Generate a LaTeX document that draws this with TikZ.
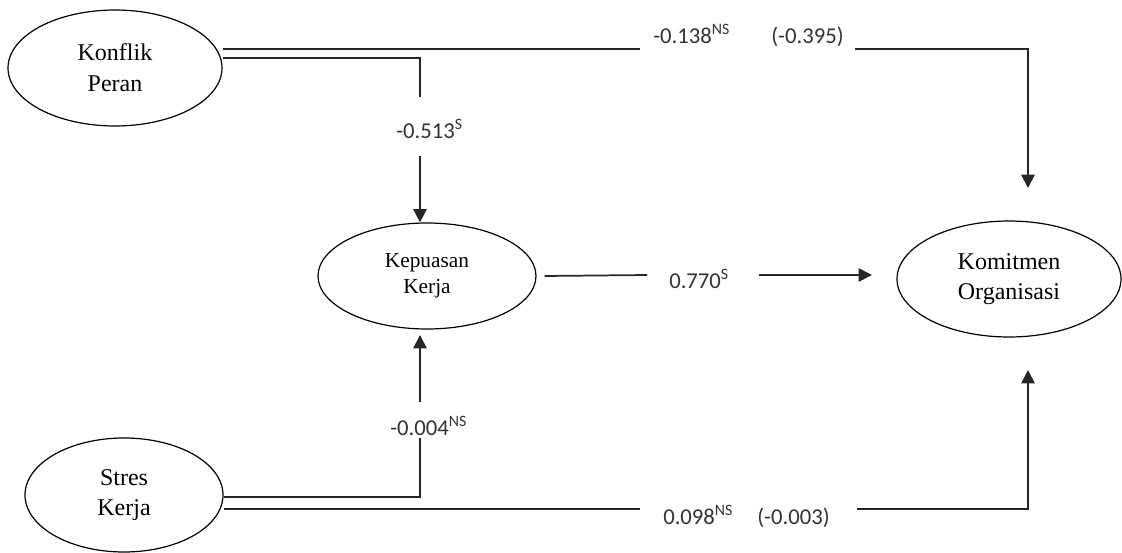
\documentclass[tikz,border=0pt]{standalone}
\usepackage{fontspec}
\setmainfont{Liberation Serif}
\newfontfamily\labfont{Carlito}
\usetikzlibrary{shapes.geometric,arrows.meta}
\begin{document}
\begin{tikzpicture}[x=0.75pt,y=-0.75pt,
  construct/.style={ellipse,draw,line width=0.9pt,inner sep=0pt,align=center,
    font=\fontsize{18}{23}\selectfont},
  link/.style={line width=1.3pt,black!85},
  arr/.style={link,-{Triangle[width=10pt,length=10pt]}},
  coef/.style={inner sep=0pt,anchor=base west,text=black!80,
    font=\labfont\fontsize{17}{20}\selectfont}]
\useasboundingbox (0,0) rectangle (1122,553);

% constructs
\node[construct,minimum width=160.5pt,minimum height=87pt] (kp) at (115,68) {Konflik\\Peran};
\node[construct,minimum width=163.5pt,minimum height=79.5pt,font=\fontsize{16}{19.5}\selectfont] (kep) at (427,276) {Kepuasan\\Kerja};
\node[construct,minimum width=168pt,minimum height=87pt] (kom) at (1009,279) {Komitmen\\Organisasi};
\node[construct,minimum width=148.5pt,minimum height=85.5pt] (st) at (124,495) {Stres\\Kerja};

% coefficient labels
\node[coef] (l1a) at (653,43) {-0.138\textsuperscript{NS}};
\node[coef] (l1b) at (771,43) {(-0.395)};
\node[coef] (l2) at (396,138) {-0.513\textsuperscript{S}};
\node[coef] (l3) at (669,288) {0.770\textsuperscript{S}};
\node[coef] (l4) at (390,435) {-0.004\textsuperscript{NS}};
\node[coef] (l5a) at (663,524) {0.098\textsuperscript{NS}};
\node[coef] (l5b) at (757,524) {(-0.003)};

% helper coordinates
\coordinate (g1a) at (640,49);
\coordinate (g1b) at (855,49);
\coordinate (t1) at (1028,188);
\coordinate (c2) at (420,58);
\coordinate (c2b) at (420,97);
\coordinate (c2c) at (420,156);
\coordinate (g3a) at (647,275);
\coordinate (g3b) at (759,275);
\coordinate (t3) at (872,275);
\coordinate (c4) at (420,497);
\coordinate (c4b) at (420,438);
\coordinate (c4c) at (420,402);
\coordinate (t4) at (420,335);
\coordinate (g5a) at (640,509);
\coordinate (g5b) at (857,509);
\coordinate (t5) at (1028,370);

% Konflik Peran -> Komitmen Organisasi
\draw[link] (kp.east |- g1a) -- (g1a);
\draw[arr] (g1b) -| (t1);
% Konflik Peran -> Kepuasan Kerja
\draw[link] (kp.east |- c2) -- (c2) -- (c2b);
\draw[arr] (c2c) -- (c2c |- kep.north);
% Kepuasan Kerja -> Komitmen Organisasi
\draw[link] ([xshift=6pt]kep.east) -- (g3a);
\draw[arr] (g3b) -- (t3);
% Stres Kerja -> Kepuasan Kerja
\draw[link] (st.east |- c4) -- (c4) -- (c4b);
\draw[arr] (c4c) -- (t4);
% Stres Kerja -> Komitmen Organisasi
\draw[link] (st.east |- g5a) -- (g5a);
\draw[arr] (g5b) -| (t5);
\end{tikzpicture}
\end{document}
